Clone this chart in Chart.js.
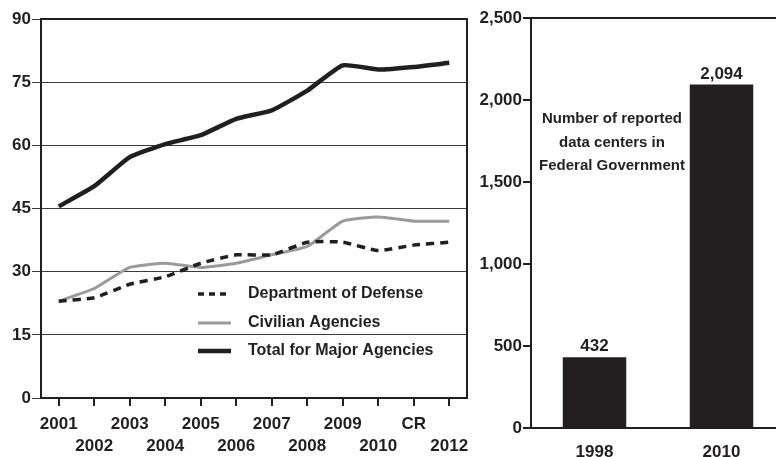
<!DOCTYPE html>
<html>
<head>
<meta charset="utf-8">
<script src="https://cdn.jsdelivr.net/npm/chart.js@4/dist/chart.umd.min.js"></script>
<style>
  html, body { margin: 0; padding: 0; background: #fff; overflow: hidden; }
  #wrap { position: relative; width: 776px; height: 457px; overflow: hidden; }
  #lineChart { position: absolute; left: 0; top: 0; }
  #barChart { position: absolute; left: 480px; top: 0; }
</style>
</head>
<body>
<div id="wrap">
  <canvas id="lineChart" width="480" height="457"></canvas>
  <canvas id="barChart" width="310" height="457"></canvas>
</div>
<script>
// left chart: spending trend by agency group
var years = ['2001', '2002', '2003', '2004', '2005', '2006', '2007', '2008', '2009', '2010', 'CR', '2012'];
var defense  = [23, 23.8, 27, 28.8, 32, 34, 34, 37, 37, 35, 36.3, 37];
var civilian = [23, 26, 31, 32, 31, 32, 34, 36, 42, 43, 42, 42];
var total    = [45.5, 50.3, 57.2, 60.3, 62.4, 66.3, 68.3, 73, 79, 78, 78.6, 79.6];
var leftTicks = [0, 15, 30, 45, 60, 75, 90];

// right chart: data center counts
var dcYears  = ['1998', '2010'];
var dcCounts = [432, 2094];
var noteLines = ['Number of reported', 'data centers in', 'Federal Government'];

var FONT = "'Liberation Sans', Arial, sans-serif";
var INK = '#231f20';
var GREY = '#9a9a9a';

Chart.defaults.font.family = FONT;
Chart.defaults.font.weight = 'bold';
Chart.defaults.font.size = 17;
Chart.defaults.color = INK;

// box round the plot area
var framePlugin = {
    id: 'frame',
    afterDraw: function (chart, args, opts) {
        var a = chart.chartArea, ctx = chart.ctx;
        ctx.save();
        ctx.strokeStyle = INK;
        ctx.lineWidth = opts.width || 2;
        ctx.strokeRect(a.left, a.top, a.right - a.left, a.bottom - a.top);
        ctx.restore();
    }
};

// legend drawn inside the plot
var innerLegend = {
    id: 'innerLegend',
    afterDraw: function (chart) {
        var a = chart.chartArea, ctx = chart.ctx;
        var rowsY = [-104, -75, -47];
        ctx.save();
        ctx.font = 'bold 16px ' + FONT;
        ctx.textBaseline = 'middle';
        ctx.fillStyle = INK;
        chart.data.datasets.forEach(function (ds, i) {
            var y = a.bottom + rowsY[i];
            var x0 = a.left + 157;
            ctx.beginPath();
            ctx.strokeStyle = ds.borderColor;
            ctx.lineWidth = ds.borderWidth;
            ctx.setLineDash(ds.borderDash ? [6, 5] : []);
            ctx.moveTo(x0, y);
            ctx.lineTo(x0 + 33, y);
            ctx.stroke();
            ctx.setLineDash([]);
            ctx.fillText(ds.label, x0 + 50, y);
        });
        ctx.restore();
    }
};

new Chart(document.getElementById('lineChart'), {
    type: 'line',
    data: {
        labels: years,
        datasets: [
            { label: 'Department of Defense', data: defense, borderColor: INK, borderWidth: 3.5, borderDash: [8, 6], pointRadius: 0, tension: 0.15 },
            { label: 'Civilian Agencies', data: civilian, borderColor: GREY, borderWidth: 3, pointRadius: 0, tension: 0.15 },
            { label: 'Total for Major Agencies', data: total, borderColor: INK, borderWidth: 4.5, pointRadius: 0, tension: 0.15 }
        ]
    },
    options: {
        responsive: false,
        devicePixelRatio: 1,
        animation: false,
        layout: { padding: { top: 19, right: 13, left: 0, bottom: 0 } },
        plugins: { legend: { display: false }, tooltip: { enabled: false }, frame: { width: 2 } },
        scales: {
            x: {
                offset: true,
                grid: { drawOnChartArea: false, drawTicks: true, tickLength: 8, color: INK, lineWidth: 2 },
                border: { display: false },
                ticks: {
                    autoSkip: false, maxRotation: 0, padding: 8,
                    font: { size: 17, lineHeight: 1.25 },
                    callback: function (v, i) {
                        return i % 2 === 0 ? [years[i], ''] : ['', years[i]];
                    }
                },
                afterFit: function (s) { s.height = 59; }
            },
            y: {
                min: 0, max: 90,
                afterBuildTicks: function (s) { s.ticks = leftTicks.map(function (v) { return { value: v }; }); },
                grid: { color: '#3a3a3a', lineWidth: 1, tickLength: 9 },
                border: { display: false },
                ticks: { padding: 1 },
                afterFit: function (s) { s.width = 41; }
            }
        }
    },
    plugins: [framePlugin, innerLegend]
});

// value labels over bars and the note text
var barNotes = {
    id: 'barNotes',
    afterDatasetsDraw: function (chart) {
        var ctx = chart.ctx, a = chart.chartArea;
        var meta = chart.getDatasetMeta(0);
        ctx.save();
        ctx.font = 'bold 17px ' + FONT;
        ctx.fillStyle = INK;
        ctx.textAlign = 'center';
        ctx.textBaseline = 'bottom';
        meta.data.forEach(function (bar, i) {
            ctx.fillText(dcCounts[i].toLocaleString('en-US'), bar.x, bar.y - 2);
        });
        ctx.font = 'bold 15px ' + FONT;
        ctx.textBaseline = 'middle';
        noteLines.forEach(function (t, i) {
            ctx.fillText(t, a.left + 81, 119 + i * 23.5);
        });
        ctx.restore();
    }
};

var barTop = {
    id: 'barTop',
    afterDraw: function (chart) {
        var a = chart.chartArea, ctx = chart.ctx;
        ctx.save();
        ctx.strokeStyle = INK;
        ctx.lineWidth = 2;
        ctx.beginPath();
        ctx.moveTo(a.left, a.top);
        ctx.lineTo(chart.width, a.top);
        ctx.stroke();
        ctx.restore();
    }
};

new Chart(document.getElementById('barChart'), {
    type: 'bar',
    data: {
        labels: dcYears,
        datasets: [{ data: dcCounts, backgroundColor: INK, categoryPercentage: 1, barPercentage: 0.5 }]
    },
    options: {
        responsive: false,
        devicePixelRatio: 1,
        animation: false,
        layout: { padding: { top: 18, right: 5, left: 0, bottom: 0 } },
        plugins: { legend: { display: false }, tooltip: { enabled: false } },
        scales: {
            x: {
                grid: { display: false, drawTicks: false },
                border: { display: true, color: INK, width: 2 },
                ticks: { padding: 14 },
                afterFit: function (s) { s.height = 29; }
            },
            y: {
                min: 0, max: 2500,
                ticks: { stepSize: 500, padding: 1, callback: function (v) { return v.toLocaleString('en-US'); } },
                grid: { drawOnChartArea: false, color: INK, lineWidth: 2, tickLength: 8 },
                border: { display: true, color: INK, width: 2 },
                afterFit: function (s) { s.width = 51; }
            }
        }
    },
    plugins: [barNotes, barTop]
});
</script>
</body>
</html>
